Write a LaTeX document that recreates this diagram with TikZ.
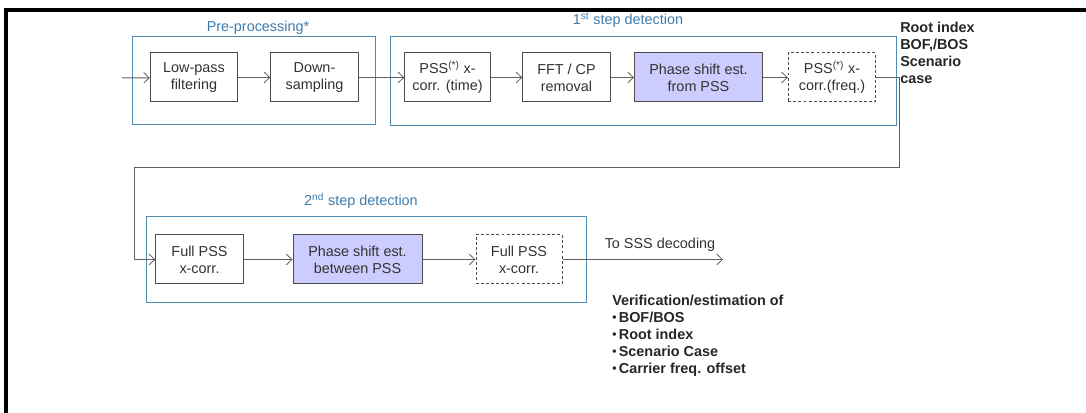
\documentclass[tikz,border=0pt]{standalone}
\usepackage{fontspec}
\setmainfont{Liberation Sans}
\usetikzlibrary{arrows.meta}
\definecolor{grpblue}{RGB}{80,140,175}
\definecolor{grptext}{RGB}{60,125,175}
\definecolor{lav}{RGB}{204,204,255}
\definecolor{ink}{RGB}{50,50,50}
\definecolor{wire}{RGB}{95,95,95}
\newcommand{\itemdot}{\raisebox{0.9pt}{\fontsize{9}{9}\selectfont\textbullet}\,}
\begin{document}
\begin{tikzpicture}[x=0.75pt,y=-0.75pt,
  txt/.style={font=\fontsize{10.8}{12.75}\selectfont},
  blk/.style={txt, draw=black!70, line width=0.75pt, fill=white, text=ink,
    align=center, inner sep=0pt, minimum height=36.75pt},
  narrow/.style={blk, minimum width=65.5pt},
  wide/.style={blk, fill=lav, minimum width=96pt},
  dashbox/.style={dashed, dash pattern=on 2.2pt off 1.6pt},
  grp/.style={draw=grpblue, line width=0.75pt},
  grplabel/.style={txt, text=grptext, inner sep=0pt},
  wire/.style={draw=wire, line width=0.75pt},
  arr/.style={wire, -{Straight Barb[length=4.2pt,width=8pt,line width=0.6pt]}},
  note/.style={font=\bfseries\fontsize{10.8}{12.75}\selectfont, text=black!85,
    align=left, inner sep=0pt, anchor=north west}
]
\useasboundingbox (0,0) rectangle (1086,413);

% page frame (top and left edges)
\draw[line width=2.4pt] (6,413) -- (6,10) -- (1086,10);

% processing groups
\draw[grp] (132,37) rectangle (375,125);
\draw[grp] (390,37) rectangle (896,126);
\draw[grp] (146,217) rectangle (586,303);

\node[grplabel] (lpre) at (258,28) {Pre-processing*};
\node[grplabel] (lone) at (628,20) {1\textsuperscript{st} step detection};
\node[grplabel] (ltwo) at (361,201) {2\textsuperscript{nd} step detection};

% first row
\node[narrow] (lpf)  at (194,77.5)   {Low-pass\\filtering};
\node[narrow] (ds)   at (314.5,77.5) {Down-\\sampling};
\node[narrow, minimum width=64pt] (pss1) at (447.5,77.5) {PSS\textsuperscript{(*)} x-\\corr. (time)};
\node[narrow] (fft)  at (566.5,77.5) {FFT / CP\\removal};
\node[wide]   (ph1)  at (698.5,77.5) {Phase shift est.\\from PSS};
\node[narrow, dashbox] (pssf) at (832,77.5) {PSS\textsuperscript{(*)} x-\\corr.(freq.)};

% second row
\node[narrow] (fps)  at (199.5,259.5) {Full PSS\\x-corr.};
\node[wide, minimum width=96.75pt] (ph2) at (357.5,259.5) {Phase shift est.\\between PSS};
\node[narrow, minimum width=64.5pt, dashbox] (fps2) at (519,259.5) {Full PSS\\x-corr.};

% connector end points
\coordinate (in)  at (122,78);
\coordinate (tr)  at (899,77.5);
\coordinate (br)  at (899,168);
\coordinate (bl)  at (134,168);
\coordinate (tl)  at (134,259.5);
\coordinate (out) at (723,259.5);

\draw[arr] (in) -- (lpf);
\draw[arr] (lpf) -- (ds);
\draw[arr] (ds) -- (pss1);
\draw[arr] (pss1) -- (fft);
\draw[arr] (fft) -- (ph1);
\draw[arr] (ph1) -- (pssf);
\draw[arr] (pssf.east) -- (tr) -- (br) -- (bl) -- (tl) -- (fps.west);
\draw[arr] (fps) -- (ph2);
\draw[arr] (ph2) -- (fps2);
\draw[arr] (fps2.east) -- (out);

\node[txt, text=ink, inner sep=0pt] (sss) at (660,245) {To SSS decoding};

% results
\node[note] (res1) at (900,21.5) {Root index\\BOF,/BOS\\Scenario\\case};
\node[note] (res2) at (612,295) {Verification/estimation of\\
  \itemdot BOF/BOS\\
  \itemdot Root index\\
  \itemdot Scenario Case\\
  \itemdot Carrier freq. offset};
\end{tikzpicture}
\end{document}
